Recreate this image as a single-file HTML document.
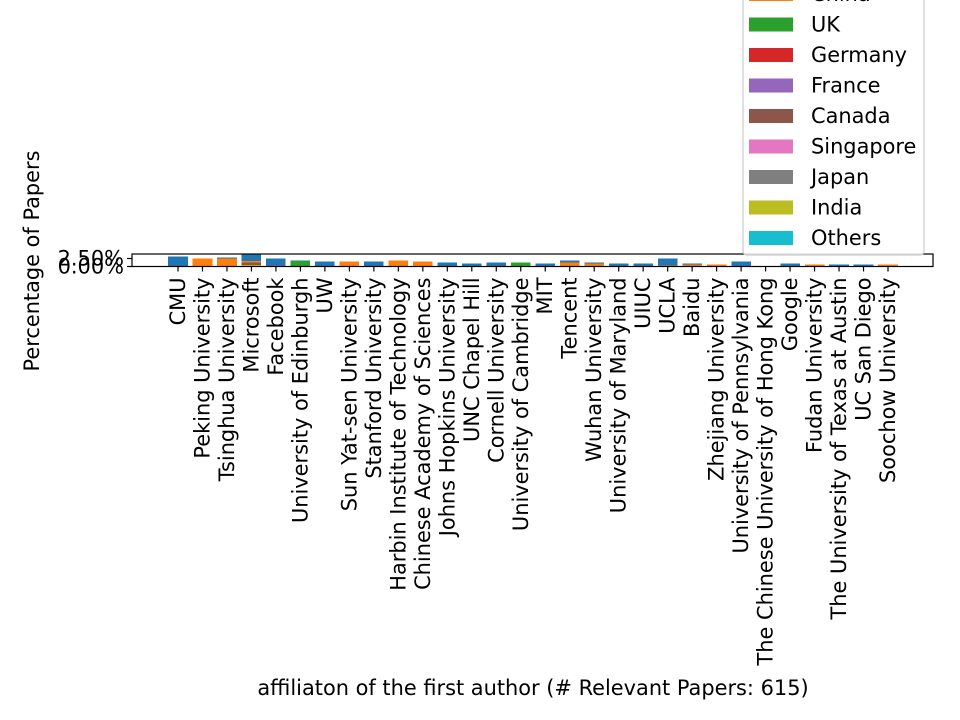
<!DOCTYPE html>
<html><head><meta charset="utf-8"><style>
html,body{margin:0;padding:0;background:#fff}
svg{display:block;font-family:"DejaVu Sans","Liberation Sans",sans-serif}
</style></head><body>
<svg id="chart" width="960" height="720" xmlns="http://www.w3.org/2000/svg"></svg>
<script>
const categories=["CMU","Peking University","Tsinghua University","Microsoft","Facebook","University of Edinburgh","UW","Sun Yat-sen University","Stanford University","Harbin Institute of Technology","Chinese Academy of Sciences","Johns Hopkins University","UNC Chapel Hill","Cornell University","University of Cambridge","MIT","Tencent","Wuhan University","University of Maryland","UIUC","UCLA","Baidu","Zhejiang University","University of Pennsylvania","The Chinese University of Hong Kong","Google","Fudan University","The University of Texas at Austin","UC San Diego","Soochow University"];
const seriesNames=["USA","China","UK","Germany","France","Canada","Singapore","Japan","India","Others"];
const seriesColors=["#1f77b4","#ff7f0e","#2ca02c","#d62728","#9467bd","#8c564b","#e377c2","#7f7f7f","#bcbd22","#17becf"];
const usa=[3.1,0,0.3,2.2,2.2,0.2,1.6,0,1.6,0,0,1.25,0.95,1.25,0,0.95,0.6,0.3,0.95,0.95,2.2,0.3,0,1.6,0,0.95,0,0.6,0.6,0];
const china=[0,2.5,2.5,0.45,0,0,0,1.6,0,1.9,1.6,0,0,0,0,0,1.25,0.95,0,0,0.3,0.6,0.6,0,0,0,0.6,0,0,0.6];
const uk=[0,0,0,0,0,1.7,0,0,0,0,0,0,0,0,1.25,0,0,0,0,0,0,0,0,0,0,0,0,0,0,0];
const germany=new Array(30).fill(0);
const france=[0,0,0,0,0.3,0,0,0,0,0,0,0,0,0,0,0,0,0,0,0,0,0,0,0,0,0,0,0,0,0];
const canada=[0,0,0,0.8,0,0,0,0,0,0,0,0,0,0,0,0,0,0,0,0,0,0,0,0,0,0,0,0,0,0];
const singapore=new Array(30).fill(0);
const japan=new Array(30).fill(0);
const india=[0,0,0,0.45,0,0,0,0,0,0,0,0,0,0,0,0,0,0,0,0,0,0,0,0,0,0,0,0,0,0];
const others=new Array(30).fill(0);
const yTicks=[0,2.5];
const yTickLabels=["0.00%","2.50%"];

const series=[usa,china,uk,germany,france,canada,singapore,japan,india,others];
const stackOrder=[9,8,7,6,5,4,3,2,1,0];
const NS="http://www.w3.org/2000/svg";
const svg=document.getElementById('chart');
const L=132,R=933,T=254,B=266.5;
const FS='20.9';
function x(i){return 178+i*(888-178)/(categories.length-1);}
function y(v){return B-v*3.2;}
function mk(tag,attrs,parent){const e=document.createElementNS(NS,tag);for(const k in attrs)e.setAttribute(k,attrs[k]);(parent||svg).appendChild(e);return e;}

const clip=mk('clipPath',{id:'plotclip'});mk('rect',{x:L,y:T,width:R-L,height:B-T},clip);
const barsG=mk('g',{'clip-path':'url(#plotclip)','shape-rendering':'crispEdges'});


const bw=19.6;
categories.forEach((c,i)=>{
  let base=0;
  stackOrder.forEach(s=>{
    const v=series[s][i];
    if(v>0){
      const r=mk('rect',{x:x(i)-bw/2,y:y(base+v),width:bw,height:y(base)-y(base+v),fill:seriesColors[s]},barsG);
      
      
    }
    base+=v;
  });
});
const frame=mk('rect',{x:L,y:T,width:R-L,height:B-T,fill:'none',stroke:'#000','stroke-width':1.2});



categories.forEach((c,i)=>{
  mk('line',{x1:x(i),x2:x(i),y1:B,y2:B+5,stroke:'#000','stroke-width':1.2});
  const t=mk('text',{x:0,y:0,transform:`translate(${x(i)},${B+11}) rotate(-90)`,'text-anchor':'end','dominant-baseline':'central','font-size':FS,fill:'#000'});
  t.textContent=c;
  
  
});
yTicks.forEach((v,i)=>{
  mk('line',{x1:L-5,x2:L,y1:y(v),y2:y(v),stroke:'#000','stroke-width':1.2});
  const t=mk('text',{x:L-8,y:y(v),'text-anchor':'end','dominant-baseline':'central','font-size':FS,fill:'#000'});
  t.textContent=yTickLabels[i];
  
  
});
const yl=mk('text',{x:0,y:0,transform:'translate(32,261) rotate(-90)','text-anchor':'middle','dominant-baseline':'central','font-size':FS,fill:'#000'});
yl.textContent='Percentage of Papers';


const xl=mk('text',{x:533,y:695,'text-anchor':'middle','font-size':FS,fill:'#000'});
xl.textContent='affiliaton of the first author (# Relevant Papers: 615)';



const lg=mk('g',{});


mk('rect',{x:743,y:-60,width:181,height:315,rx:4,fill:'#fff','fill-opacity':0.85,stroke:'#ccc','stroke-width':1.2},lg);
seriesNames.forEach((n,s)=>{
  const cy=238-(9-s)*30.5;
  mk('rect',{x:749,y:cy-7,width:44,height:14,fill:seriesColors[s]},lg);
  const t=mk('text',{x:811,y:cy,'dominant-baseline':'central','font-size':FS,fill:'#000'},lg);
  t.textContent=n;
  
  
});
</script>
</body></html>
